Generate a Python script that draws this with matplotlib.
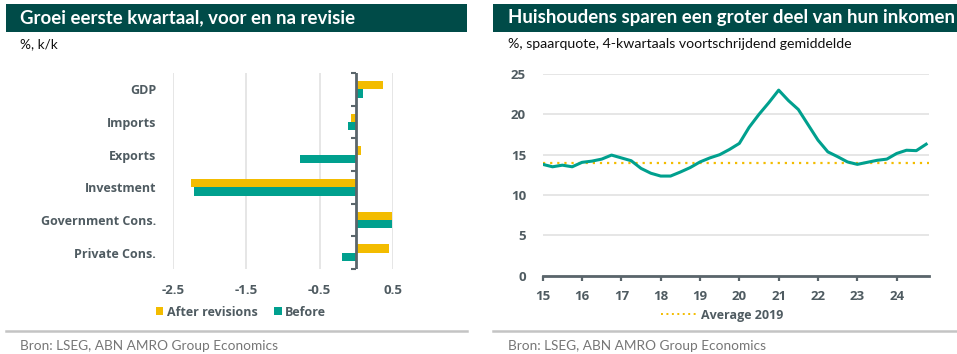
import numpy as np
import matplotlib
matplotlib.use("Agg")
import matplotlib.pyplot as plt
from matplotlib.patches import Rectangle, Patch
from matplotlib.lines import Line2D

plt.rcParams["font.family"] = ["Lato", "DejaVu Sans"]

# left chart data
categories = ["GDP", "Imports", "Exports", "Investment", "Government Cons.", "Private Cons."]
after_rev = [0.36, -0.07, 0.07, -2.26, 0.48, 0.44]
before_rev = [0.09, -0.12, -0.77, -2.21, 0.49, -0.19]
left_ticks = [-2.5, -1.5, -0.5, 0.5]

# right chart data, quarterly 2015Q1 - 2024Q4
quarters = np.arange(15, 25, 0.25)
saving_rate = [13.8, 13.5, 13.7, 13.5, 14.05, 14.2, 14.45, 14.95,
               14.6, 14.25, 13.3, 12.7, 12.35, 12.35, 12.85, 13.4,
               14.1, 14.6, 15.0, 15.65, 16.4, 18.4, 20.0, 21.45,
               23.0, 21.7, 20.6, 18.7, 16.8, 15.35, 14.75, 14.1,
               13.8, 14.05, 14.3, 14.45, 15.15, 15.55, 15.5, 16.3]
avg_2019 = 14.0
year_ticks = list(range(15, 25))

DARK = "#004b48"
GOLD = "#f3bc00"
TEAL = "#00a08e"
GREY = "#4f5b61"
GRID = "#e2e2e2"
LABEL_FONT = ["Open Sans", "DejaVu Sans"]
W, H = 957, 354


def fx(x):
    return x / W


def fy(y):
    return 1 - y / H


fig = plt.figure(figsize=(W / 100, H / 100), dpi=100)
renderer = fig.canvas.get_renderer()


def fit(t, width):
    bb = t.get_window_extent(renderer)
    t.set_fontsize(t.get_fontsize() * width / bb.width)


def style_labels(labels, size):
    for lab in labels:
        lab.set_family(LABEL_FONT)
        lab.set_fontweight("bold")
        lab.set_fontsize(size)
        lab.set_color(GREY)


# header bars
fig.patches.append(Rectangle((fx(6), fy(32)), 461 / W, 28 / H, transform=fig.transFigure,
                             facecolor=DARK, edgecolor="none", zorder=0))
fig.patches.append(Rectangle((fx(493), fy(32)), 464 / W, 28 / H, transform=fig.transFigure,
                             facecolor=DARK, edgecolor="none", zorder=0))
t = fig.text(fx(20), fy(18), "Groei eerste kwartaal, voor en na revisie", color="white",
             fontsize=12, fontweight="bold", va="center")
fit(t, 332)
t = fig.text(fx(508), fy(18), "Huishoudens sparen een groter deel van hun inkomen", color="white",
             fontsize=12, fontweight="bold", va="center")
fit(t, 444)
t = fig.text(fx(20), fy(44), "%, k/k", color="#111111", fontsize=9.5, va="center")
fit(t, 38)
t = fig.text(fx(508), fy(44), "%, spaarquote, 4-kwartaals voortschrijdend gemiddelde",
             color="#111111", fontsize=9.5, va="center")
fit(t, 345)

# footer lines and source
for x0, x1 in [(6, 467), (493, 957)]:
    fig.add_artist(Line2D([fx(x0), fx(x1)], [fy(330.5), fy(330.5)], transform=fig.transFigure,
                          color="#c4c4c4", lw=1.8))
for x0 in [20, 508]:
    t = fig.text(fx(x0), fy(345.5), "Bron: LSEG, ABN AMRO Group Economics", color="#767676",
                 fontsize=9, va="center")
    fit(t, 258)

# ---------------- left chart ----------------
ax = fig.add_axes([fx(173), fy(269), 220 / W, 196 / H])
y = np.arange(len(categories))
bh = 0.26
ax.barh(y - bh / 2, after_rev, height=bh, color=GOLD, zorder=2)
ax.barh(y + bh / 2, before_rev, height=bh, color=TEAL, zorder=2)
ax.set_xlim(-2.5, 0.5)
ax.set_ylim(len(categories) - 0.5, -0.5)
ax.set_xticks(left_ticks)
ax.set_xticklabels([f"{v:g}" for v in left_ticks])
ax.set_yticks(y)
ax.set_yticklabels(categories)
ax.tick_params(axis="both", length=0)
ax.tick_params(axis="y", pad=12)
ax.tick_params(axis="x", pad=11)
style_labels(ax.get_yticklabels(), 9)
style_labels(ax.get_xticklabels(), 9.5)
ax.grid(axis="x", color=GRID, lw=1.2, zorder=0)
ax.set_axisbelow(True)
for s in ax.spines.values():
    s.set_visible(False)
ax.axvline(0, color="#5a656b", lw=2, zorder=3)
bounds = np.arange(len(categories) + 1) - 0.5
ax.hlines(bounds, -0.07, 0, color="#5a656b", lw=1.5, zorder=3, clip_on=False)

handles = [Patch(facecolor=GOLD, label="After revisions"), Patch(facecolor=TEAL, label="Before")]
leg = fig.legend(handles=handles, loc="center", bbox_to_anchor=(fx(241), fy(312)), ncol=2,
                 frameon=False, handlelength=0.6, handleheight=0.6, handletextpad=0.3,
                 columnspacing=1.3, prop={"family": LABEL_FONT, "weight": "bold", "size": 9})
for txt in leg.get_texts():
    txt.set_color(GREY)

# ---------------- right chart ----------------
ax2 = fig.add_axes([fx(542.7), fy(275.7), 386.6 / W, 201.7 / H])
ax2.plot(quarters, saving_rate, color=TEAL, lw=2.2, zorder=3)
ax2.axhline(avg_2019, color=GOLD, lw=1.6, ls=(0, (1, 2.2)), zorder=2)
ax2.set_xlim(15, 24.83)
ax2.set_ylim(0, 25)
ax2.set_xticks(year_ticks)
ax2.set_yticks(range(0, 26, 5))
ax2.grid(axis="y", color=GRID, lw=1.2, zorder=0)
ax2.set_axisbelow(True)
for s in ["top", "right", "left"]:
    ax2.spines[s].set_visible(False)
ax2.spines["bottom"].set_color("#5a656b")
ax2.spines["bottom"].set_linewidth(2)
ax2.tick_params(axis="x", direction="out", length=3.5, width=1.6, color="#5a656b", pad=7)
ax2.tick_params(axis="y", length=0, pad=12)
style_labels(ax2.get_xticklabels(), 9.5)
style_labels(ax2.get_yticklabels(), 9.5)

leg2 = fig.legend(handles=[Line2D([], [], color=GOLD, lw=1.4, ls=(0, (1, 1.8)), label="Average 2019")],
                  loc="center", bbox_to_anchor=(fx(722), fy(315)), frameon=False,
                  handlelength=2.9, handletextpad=0.3,
                  prop={"family": LABEL_FONT, "weight": "bold", "size": 9})
for txt in leg2.get_texts():
    txt.set_color(GREY)

fig.savefig("out.png", dpi=100)
